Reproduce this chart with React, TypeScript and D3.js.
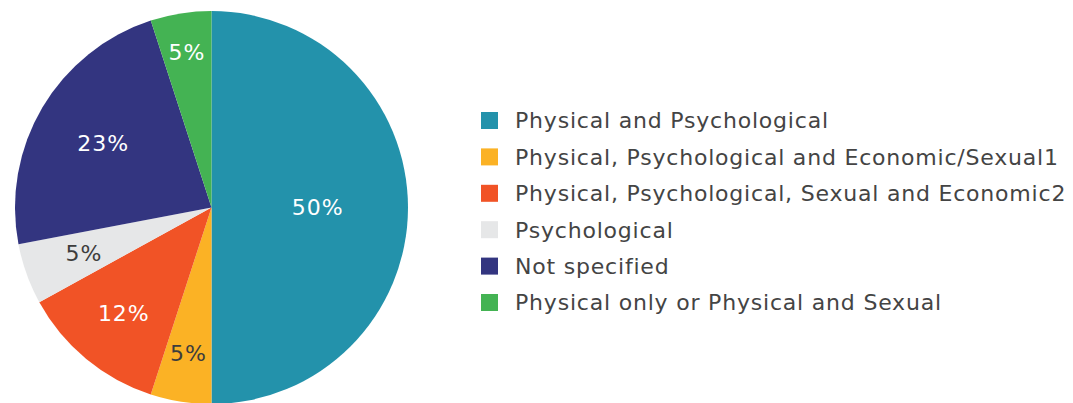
import { useMemo } from "react";
import * as d3 from "d3";

// Slices, clockwise from 12 o'clock
const categories = [
  "Physical and Psychological",
  "Physical, Psychological and Economic/Sexual1",
  "Physical, Psychological, Sexual and Economic2",
  "Psychological",
  "Not specified",
  "Physical only or Physical and Sexual",
];
const shares = [50, 5, 12, 5, 23, 5];
const colors = ["#2392ab", "#fbb225", "#f15326", "#e6e7e8", "#333580", "#44b353"];
const labelColors = ["#ffffff", "#3d3d3d", "#ffffff", "#3d3d3d", "#ffffff", "#ffffff"];

const W = 1073;
const H = 403;
const CX = 211.5;
const CY = 207.5;
const R = 196.5;
// how far out each % label sits, as a fraction of the radius
const labelFrac = [0.54, 0.75, 0.7, 0.69, 0.64, 0.8];

const FONT = "'DejaVu Sans', sans-serif";

export default function App() {
  const arcs = useMemo(
    () =>
      d3
        .pie<number>()
        .sort(null)
        .value((d) => d)(shares),
    []
  );
  const arc = d3.arc<d3.PieArcDatum<number>>().innerRadius(0).outerRadius(R);

  const legendY = d3
    .scalePoint<string>()
    .domain(categories)
    .range([120.5, 302.5]);

  return (
    <div style={{ position: "absolute", left: 0, top: 0 }}>
      <svg width={W} height={H} viewBox={`0 0 ${W} ${H}`} style={{ display: "block", background: "#fff" }}>
        <g transform={`translate(${CX},${CY})`}>
          {arcs.map((a, i) => (
            <path key={i} d={arc(a) ?? ""} fill={colors[i]} />
          ))}
          {arcs.map((a, i) => {
            const lr = R * labelFrac[i];
            const [x, y] = d3
              .arc<d3.PieArcDatum<number>>()
              .innerRadius(lr)
              .outerRadius(lr)
              .centroid(a);
            return (
              <text
                key={i}
                x={x}
                y={y}
                dy="0.36em"
                textAnchor="middle"
                fill={labelColors[i]}
                fontFamily={FONT}
                fontSize={22}
                letterSpacing={1}
              >
                {`${shares[i]}%`}
              </text>
            );
          })}
        </g>
        <g>
          {categories.map((c, i) => (
            <g key={c} transform={`translate(481,${legendY(c)})`}>
              <rect x={0} y={-8.5} width={17} height={17} fill={colors[i]} />
              <text
                x={34}
                y={0}
                dy="0.36em"
                fill="#444444"
                fontFamily={FONT}
                fontSize={22}
                letterSpacing={0.8}
              >
                {c}
              </text>
            </g>
          ))}
        </g>
      </svg>
    </div>
  );
}
